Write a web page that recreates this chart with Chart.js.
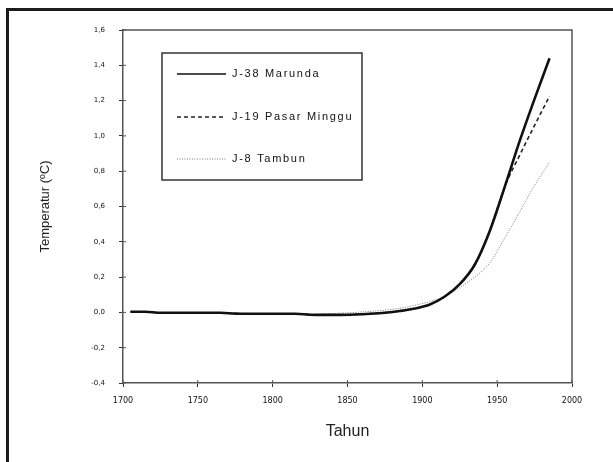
<!DOCTYPE html>
<html>
<head>
<meta charset="UTF-8" />
<title>Temperatur</title>
<script src="https://cdn.jsdelivr.net/npm/chart.js@4.4.0/dist/chart.umd.min.js"></script>
<style>
    body { margin: 0; background: #fff; }
    #wrap { position: relative; width: 613px; height: 462px; overflow: hidden; }
    #frame { position: absolute; left: 6px; top: 8px; width: 640px; height: 480px; border: 3px solid #1c1c1c; pointer-events: none; }
</style>
</head>
<body>
<div id="wrap">
    <canvas id="chart" width="613" height="462"></canvas>
    <div id="frame"></div>
</div>

<script>
// data
const years = [1705, 1715, 1725, 1735, 1745, 1755, 1765, 1775, 1785, 1795, 1805, 1815, 1825, 1835,
               1845, 1855, 1865, 1875, 1885, 1895, 1905, 1915, 1925, 1935, 1945, 1955, 1965, 1975, 1985];

const marunda = [0.004, 0.004, -0.002, -0.002, -0.002, -0.002, -0.002, -0.007, -0.008, -0.008, -0.008, -0.008, -0.013, -0.014,
                 -0.014, -0.012, -0.008, -0.002, 0.008, 0.022, 0.045, 0.09, 0.16, 0.27, 0.46, 0.71, 0.97, 1.21, 1.44];

const pasarMinggu = [0.004, 0.004, -0.002, -0.002, -0.002, -0.002, -0.002, -0.007, -0.008, -0.008, -0.008, -0.008, -0.013, -0.014,
                     -0.014, -0.012, -0.008, -0.002, 0.008, 0.022, 0.045, 0.09, 0.16, 0.27, 0.46, 0.71, 0.89, 1.06, 1.225];

const tambun = [0.004, 0.004, -0.002, -0.002, -0.002, -0.002, -0.002, -0.007, -0.008, -0.008, -0.008, -0.008, -0.013, -0.008,
                -0.004, 0.0, 0.006, 0.013, 0.024, 0.04, 0.062, 0.09, 0.14, 0.2, 0.28, 0.42, 0.57, 0.72, 0.85];

const seriesNames = ['J-38 Marunda', 'J-19 Pasar Minggu', 'J-8 Tambun'];

const yMin = -0.4, yMax = 1.6, yStep = 0.2;
const xMin = 1700, xMax = 2000, xStep = 50;

function pts(vals) {
    return years.map((y, i) => ({ x: y, y: vals[i] }));
}

// legend drawn inside the plot, in a box
const boxLegend = {
    id: 'boxLegend',
    afterDraw(chart) {
        const ctx = chart.ctx;
        ctx.save();
        ctx.strokeStyle = '#333';
        ctx.lineWidth = 1.5;
        ctx.strokeRect(162, 53, 200, 127);
        const rowY = [74, 117, 159];
        chart.data.datasets.forEach((ds, i) => {
            ctx.beginPath();
            ctx.setLineDash(ds.borderDash || []);
            ctx.lineWidth = Math.min(ds.borderWidth, 1.3);
            ctx.strokeStyle = ds.borderColor;
            ctx.moveTo(177, rowY[i]);
            ctx.lineTo(226, rowY[i]);
            ctx.stroke();
            ctx.setLineDash([]);
            ctx.fillStyle = '#111';
            ctx.font = '11px "Liberation Sans"';
            ctx.letterSpacing = '1.7px';
            ctx.textBaseline = 'middle';
            ctx.fillText(ds.label, 232, rowY[i]);
        });
        ctx.restore();
    }
};

// plot frame top/right + ticks crossing into the plot
const plotFrame = {
    id: 'plotFrame',
    afterDatasetsDraw(chart) {
        const { ctx, chartArea: a, scales } = chart;
        ctx.save();
        ctx.strokeStyle = '#555';
        ctx.lineWidth = 1.5;
        ctx.beginPath();
        ctx.moveTo(a.left, a.top);
        ctx.lineTo(a.right, a.top);
        ctx.lineTo(a.right, a.bottom);
        ctx.stroke();
        ctx.lineWidth = 1;
        ctx.beginPath();
        scales.x.ticks.forEach(t => {
            const px = scales.x.getPixelForValue(t.value);
            ctx.moveTo(px, a.bottom);
            ctx.lineTo(px, a.bottom - 3);
        });
        scales.y.ticks.forEach(t => {
            const py = scales.y.getPixelForValue(t.value);
            ctx.moveTo(a.left, py);
            ctx.lineTo(a.left + 3, py);
        });
        ctx.stroke();
        ctx.restore();
    }
};

const ctx = document.getElementById('chart').getContext('2d');

const myChart = new Chart(ctx, {
    type: 'line',
    data: {
        datasets: [
            {
                label: seriesNames[0],
                data: pts(marunda),
                borderColor: '#111',
                borderWidth: 2.6,
                pointRadius: 0,
                cubicInterpolationMode: 'monotone',
                fill: false
            },
            {
                label: seriesNames[1],
                data: pts(pasarMinggu),
                borderColor: '#222',
                borderWidth: 1.6,
                borderDash: [4, 3],
                pointRadius: 0,
                cubicInterpolationMode: 'monotone',
                fill: false
            },
            {
                label: seriesNames[2],
                data: pts(tambun),
                borderColor: '#7a7a7a',
                borderWidth: 1,
                borderDash: [1, 1.5],
                pointRadius: 0,
                cubicInterpolationMode: 'monotone',
                fill: false
            }
        ]
    },
    options: {
        responsive: false,
        animation: false,
        events: [],
        layout: { padding: { left: 0, top: 30, right: 41, bottom: 0 } },
        plugins: {
            legend: { display: false },
            tooltip: { enabled: false }
        },
        scales: {
            x: {
                type: 'linear',
                min: xMin,
                max: xMax,
                afterFit: s => { s.height = 79; },
                border: { color: '#555', width: 1.5 },
                grid: { display: true, drawOnChartArea: false, tickLength: 4, color: '#333' },
                ticks: {
                    stepSize: xStep,
                    maxRotation: 0,
                    padding: 9,
                    color: '#111',
                    font: { family: 'DejaVu Sans', size: 8 },
                    callback: v => String(v)
                },
                title: {
                    display: true,
                    text: 'Tahun',
                    color: '#222',
                    font: { family: 'Liberation Sans', size: 16 },
                    padding: { top: 0, bottom: 21 }
                }
            },
            y: {
                min: yMin,
                max: yMax,
                afterFit: s => { s.width = 123; },
                border: { color: '#555', width: 1.5 },
                grid: { display: true, drawOnChartArea: false, tickLength: 4, color: '#333' },
                ticks: {
                    stepSize: yStep,
                    padding: 14,
                    color: '#111',
                    font: { family: 'DejaVu Sans', size: 7 },
                    callback: v => v.toFixed(1).replace('.', ',')
                },
                title: {
                    display: true,
                    text: 'Temperatur (ºC)',
                    color: '#222',
                    font: { family: 'Liberation Sans', size: 13 },
                    padding: { top: 38, bottom: 0 }
                }
            }
        }
    },
    plugins: [boxLegend, plotFrame]
});
</script>
</body>
</html>
